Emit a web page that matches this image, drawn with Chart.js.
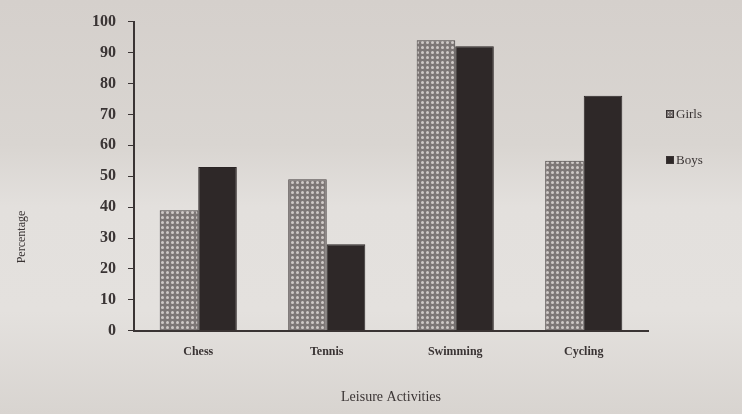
<!DOCTYPE html>
<html>
<head>
<meta charset="utf-8">
<script src="https://cdn.jsdelivr.net/npm/chart.js@4.4.1/dist/chart.umd.min.js"></script>
<style>
    html, body { margin: 0; padding: 0; }
    body {
        width: 742px; height: 414px;
        background: linear-gradient(180deg, #d5d0cc 0%, #d9d5d1 35%, #e3e0dd 50%, #e4e1de 75%, #d8d4d0 100%);
    }
    #wrap { position: relative; width: 742px; height: 414px; }
    .legend {
        position: absolute; left: 666px;
        font: 13px "Liberation Serif", "DejaVu Serif", serif; color: #3a3434;
        line-height: 16px;
    }
    .legend span.sw {
        display: inline-block; width: 8px; height: 8px; margin-right: 2px;
        vertical-align: 0px; border: 1px solid #3a3434; box-sizing: border-box;
    }
</style>
</head>
<body>
<div id="wrap">
    <canvas id="chart"></canvas>
    <div id="legend"></div>
</div>
<script>
const categories = ['Chess', 'Tennis', 'Swimming', 'Cycling'];
const seriesNames = ['Girls', 'Boys'];
const girls = [39, 49, 94, 55];
const boys = [53, 28, 92, 76];
const yTicks = [0, 10, 20, 30, 40, 50, 60, 70, 80, 90, 100];
const yTitle = 'Percentage';
const xTitle = 'Leisure Activities';

const ink = '#3a3434';
const serif = '"Liberation Serif", "DejaVu Serif", serif';

// dotted pattern for the girls bars
function makePattern() {
    const c = document.createElement('canvas');
    c.width = 5;
    c.height = 5;
    const ctx = c.getContext('2d');
    ctx.fillStyle = '#7d7776';
    ctx.fillRect(0, 0, 5, 5);
    ctx.fillStyle = '#cfcac7';
    ctx.beginPath();
    ctx.arc(2.5, 2.5, 1.5, 0, Math.PI * 2);
    ctx.fill();
    return document.getElementById('chart').getContext('2d').createPattern(c, 'repeat');
}

// y title sits low on the left, below the axis middle
const yTitlePlugin = {
    id: 'yTitle',
    afterDraw(chart) {
        const { ctx } = chart;
        ctx.save();
        ctx.translate(22, 237);
        ctx.rotate(-Math.PI / 2);
        ctx.font = '12px ' + serif;
        ctx.fillStyle = ink;
        ctx.textAlign = 'center';
        ctx.textBaseline = 'middle';
        ctx.fillText(yTitle, 0, 0);
        ctx.restore();
    }
};

const chart = new Chart(document.getElementById('chart'), {
    type: 'bar',
    data: {
        labels: categories,
        datasets: [
            {
                label: seriesNames[0],
                data: girls,
                backgroundColor: makePattern(),
                borderColor: '#4a4444',
                borderWidth: 1,
                categoryPercentage: 0.6,
                barPercentage: 1.0,
            },
            {
                label: seriesNames[1],
                data: boys,
                backgroundColor: '#2e2828',
                borderColor: '#2a2424',
                borderWidth: 1,
                categoryPercentage: 0.6,
                barPercentage: 1.0,
            },
        ]
    },
    options: {
        responsive: true,
        maintainAspectRatio: false,
        animation: false,
        layout: { padding: { top: 21, right: 94, bottom: 4, left: 80 } },
        plugins: {
            tooltip: { enabled: false },
            legend: { display: false },
        },
        scales: {
            y: {
                min: 0,
                max: 100,
                afterBuildTicks: (axis) => { axis.ticks = yTicks.map((v) => ({ value: v })); },
                grid: {
                    drawOnChartArea: false,
                    drawTicks: true,
                    tickLength: 6,
                    color: ink,
                },
                border: { display: true, color: ink, width: 2 },
                ticks: {
                    font: { size: 16, family: serif, weight: 'bold' },
                    color: ink,
                    padding: 12,
                },
            },
            x: {
                grid: { display: false },
                border: { display: true, color: ink, width: 2 },
                ticks: {
                    font: { size: 12, family: serif, weight: 'bold' },
                    color: ink,
                    padding: 6,
                },
                title: {
                    display: true,
                    text: xTitle,
                    font: { size: 14, family: serif },
                    color: ink,
                    padding: { top: 24 },
                },
            },
        }
    },
    plugins: [yTitlePlugin]
});

// legend on the right, built from the datasets
const legendTops = [106, 152];
const legendEl = document.getElementById('legend');
chart.data.datasets.forEach((ds, i) => {
    const row = document.createElement('div');
    row.className = 'legend';
    row.style.top = legendTops[i] + 'px';
    const sw = document.createElement('span');
    sw.className = 'sw';
    if (i === 0) {
        sw.style.background = 'radial-gradient(circle, #cfcac7 35%, #7d7776 40%) 0 0 / 3px 3px';
    } else {
        sw.style.background = ds.backgroundColor;
    }
    row.appendChild(sw);
    row.appendChild(document.createTextNode(ds.label));
    legendEl.appendChild(row);
});
</script>
</body>
</html>
